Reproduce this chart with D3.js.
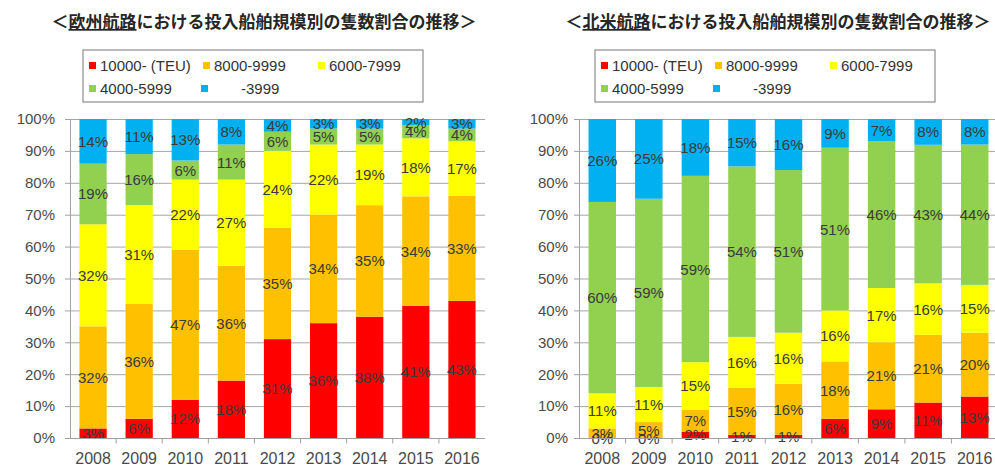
<!DOCTYPE html>
<html lang="ja">
<head>
<meta charset="utf-8">
<title>投入船舶規模別の隻数割合</title>
<script src="https://d3js.org/d3.v7.min.js"></script>
<style>
  body{margin:0;background:#fff;}
  svg{display:block;}
  .axis text{font-family:"Liberation Sans",Arial,sans-serif;fill:#4a4a4a;}
  .val{font-family:"Liberation Sans",Arial,sans-serif;font-size:15px;fill:#3a3a3a;}
  .title{font-family:"Noto Sans CJK JP",sans-serif;font-size:17px;font-weight:bold;fill:#262626;}
  .leg{font-family:"Liberation Sans",Arial,sans-serif;font-size:15px;fill:#333;}
</style>
</head>
<body>
<div id="chart"></div>
<script>
// years on the x axis
var years = ["2008","2009","2010","2011","2012","2013","2014","2015","2016"]
// size classes, bottom to top
var sizeClasses = ["10000- (TEU)","8000-9999","6000-7999","4000-5999","-3999"]
var colors = ["#ff0000","#ffc000","#ffff00","#92d050","#00b0f0"]
var yTicks = [0,10,20,30,40,50,60,70,80,90,100]

// Europe route (%)
var eu10000 = [3,6,12,18,31,36,38,41,43]
var eu8000  = [32,36,47,36,35,34,35,34,33]
var eu6000  = [32,31,22,27,24,22,19,18,17]
var eu4000  = [19,16,6,11,6,5,5,4,4]
var eu3999  = [14,11,13,8,4,3,3,2,3]

// North America route (%)
var na10000 = [0,0,2,1,1,6,9,11,13]
var na8000  = [3,5,7,15,16,18,21,21,20]
var na6000  = [11,11,15,16,16,16,17,16,15]
var na4000  = [60,59,59,54,51,51,46,43,44]
var na3999  = [26,25,18,15,16,9,7,8,8]

var W = 995, H = 466
var svg = d3.select("#chart").append("svg").attr("width",W).attr("height",H)

function buildRows(series){
    return years.map(function(y,i){
        var r = {year:y}
        series.forEach(function(s,k){ r[k] = s[i] })
        return r
    })
}

function drawChart(o){
    var g = svg.append("g")
    var rows = buildRows(o.series)
    var keys = d3.range(sizeClasses.length)
    // rounded shares do not always add to 100, so bars are expanded to full height
    var stacked = d3.stack().keys(keys).offset(d3.stackOffsetExpand)(rows)

    var x = d3.scaleBand().domain(years).range([o.x0,o.x1]).paddingInner(0.41).paddingOuter(0.205)
    var y = d3.scaleLinear().domain([0,100]).range([438,119])
    var yf = d3.scaleLinear().domain([0,1]).range([438,119])

    // title
    var t = g.append("text").attr("class","title")
        .attr("x",o.titleX).attr("y",28).attr("text-anchor","middle")
    t.append("tspan").text("＜")
    t.append("tspan").attr("text-decoration","underline").text(o.route)
    t.append("tspan").text("における投入船舶規模別の隻数割合の推移＞")

    // legend
    g.append("rect").attr("x",o.legX).attr("y",50).attr("width",340).attr("height",52)
        .attr("fill","#fff").attr("stroke","#8c8c8c").attr("stroke-width",1.2)
    var legPos = [[6,0],[120,0],[235,0],[6,1],[118,1]]
    sizeClasses.forEach(function(name,i){
        var lx = o.legX + legPos[i][0], ly = 66 + legPos[i][1]*23
        g.append("rect").attr("x",lx).attr("y",ly-4).attr("width",7).attr("height",7).attr("fill",colors[i])
        g.append("text").attr("class","leg").attr("x", i==4 ? lx+40 : lx+11).attr("y",ly+5).text(name)
    })

    // gridlines
    g.append("g").selectAll("line").data(yTicks.slice(1)).enter().append("line")
        .attr("x1",o.x0).attr("x2",o.x1).attr("y1",function(d){return y(d)+0.5}).attr("y2",function(d){return y(d)+0.5})
        .attr("stroke","#a6a6a6").attr("stroke-width",1)

    // y axis
    var yAxis = d3.axisLeft(y).tickValues(yTicks).tickFormat(function(d){return d+"%"}).tickSize(5).tickPadding(o.pad)
    var ya = g.append("g").attr("class","axis").attr("transform","translate("+o.x0+",0)").call(yAxis)
    ya.selectAll("text").attr("font-size","15px")
    ya.selectAll("line,path").attr("stroke","#a0a0a0")

    // bars
    g.append("g").selectAll("g").data(stacked).enter().append("g")
        .attr("fill",function(d){return colors[d.key]})
        .selectAll("rect").data(function(d){return d}).enter().append("rect")
        .attr("x",function(d){return x(d.data.year)})
        .attr("width",x.bandwidth())
        .attr("y",function(d){return yf(d[1])})
        .attr("height",function(d){return yf(d[0])-yf(d[1])})

    // value labels (the read share of each class)
    stacked.forEach(function(layer){
        g.append("g").selectAll("text").data(layer).enter().append("text")
            .attr("class","val")
            .attr("text-anchor","middle").attr("dominant-baseline","central")
            .attr("x",function(d){return x(d.data.year)+x.bandwidth()/2})
            .attr("y",function(d){return yf((d[0]+d[1])/2)})
            .text(function(d){return d.data[layer.key]+"%"})
    })

    // x axis
    var xa = g.append("g").attr("class","axis").attr("transform","translate(0,438.5)")
    xa.append("line").attr("x1",o.x0).attr("x2",o.x1).attr("stroke","#a0a0a0")
    xa.selectAll(".tk").data(years.slice(1)).enter().append("line")
        .attr("x1",function(d){return x(d)-x.step()*x.paddingInner()/2})
        .attr("x2",function(d){return x(d)-x.step()*x.paddingInner()/2})
        .attr("y1",0).attr("y2",5).attr("stroke","#a0a0a0")
    xa.selectAll("text").data(years).enter().append("text")
        .attr("x",function(d){return x(d)+x.bandwidth()/2}).attr("y",25)
        .attr("text-anchor","middle").attr("font-size","16px").text(function(d){return d})
}

drawChart({route:"欧州航路", series:[eu10000,eu8000,eu6000,eu4000,eu3999], x0:70, x1:485, titleX:264, legX:83, pad:10})
drawChart({route:"北米航路", series:[na10000,na8000,na6000,na4000,na3999], x0:579, x1:998, titleX:778, legX:595, pad:6})
</script>
</body>
</html>
